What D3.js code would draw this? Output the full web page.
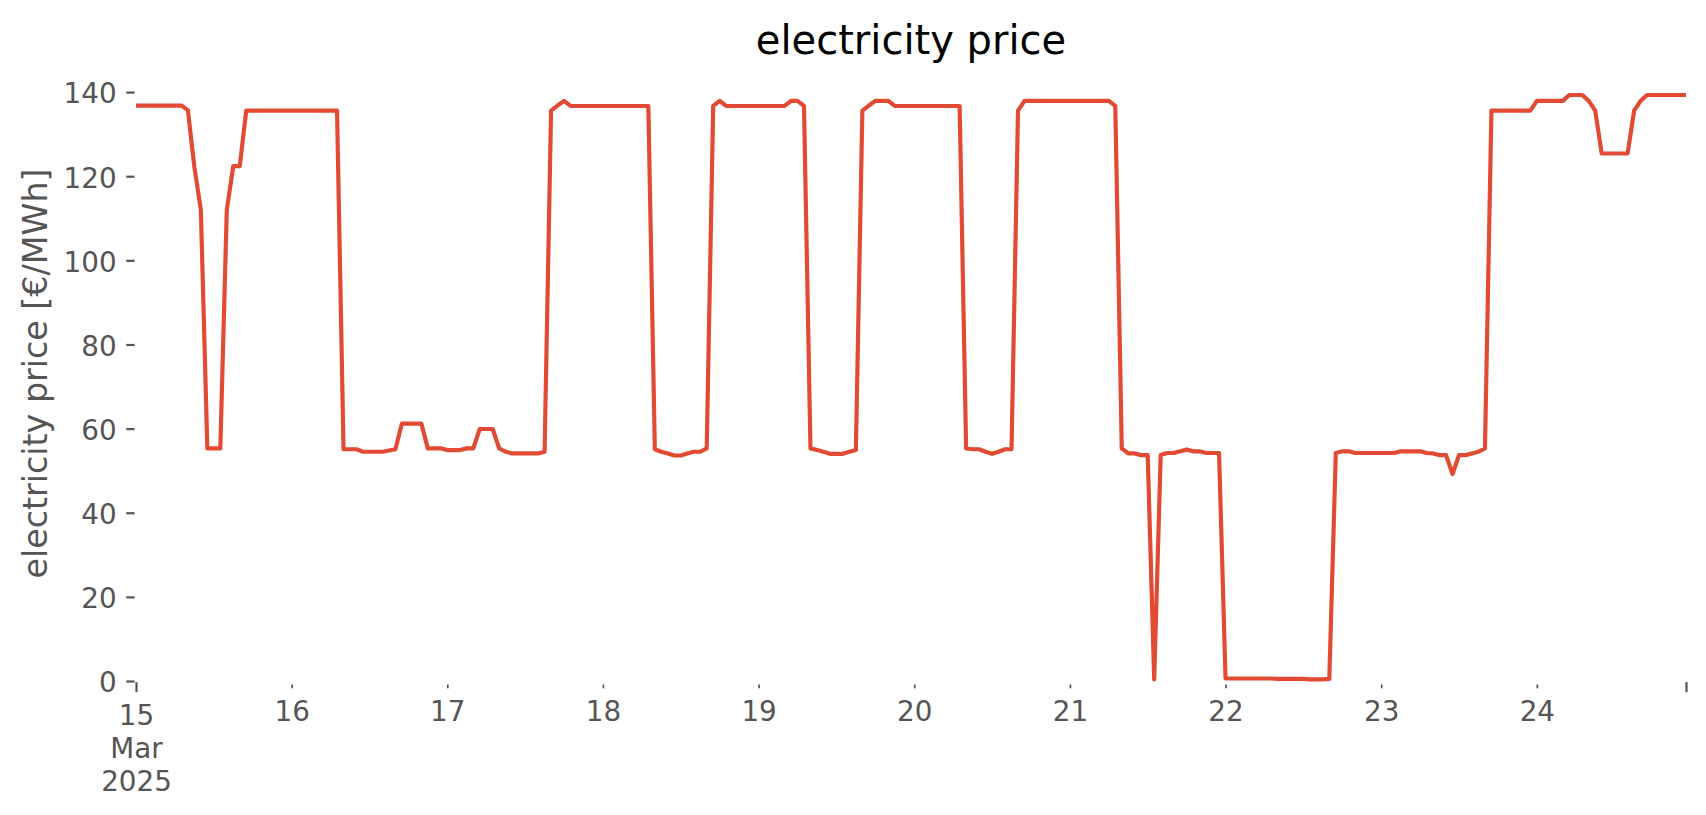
<!DOCTYPE html>
<html>
<head>
<meta charset="utf-8">
<script src="https://cdn.jsdelivr.net/npm/d3@7"></script>
<style>
  html, body { margin: 0; padding: 0; background: #ffffff; }
  svg { display: block; font-family: "DejaVu Sans", sans-serif; }
</style>
</head>
<body>
<svg id="chart" width="1706" height="815"></svg>
<script>
// ---------------- data ----------------
const chartTitle = "electricity price";
const yAxisLabel = "electricity price [€/MWh]";
const startTime = "2025-03-15T00:00:00";
const endTime = "2025-03-24T23:00:00";

// hourly electricity price [€/MWh], 15 Mar 00:00 .. 24 Mar 23:00
const prices = [
  // 15 Mar
  136.8,136.8,136.8,136.8,136.8,136.8,136.8,136.8,135.7,122.2,112.0,55.3,
  55.3,55.3,112.0,122.4,122.4,135.6,135.6,135.6,135.6,135.6,135.6,135.6,
  // 16 Mar
  135.6,135.6,135.6,135.6,135.6,135.6,135.6,135.6,55.1,55.1,55.1,54.5,
  54.5,54.5,54.5,54.8,55.1,61.2,61.2,61.2,61.2,55.3,55.3,55.3,
  // 17 Mar
  54.9,54.9,54.9,55.3,55.3,59.9,59.9,59.9,55.3,54.5,54.1,54.1,
  54.1,54.1,54.1,54.5,135.6,136.8,137.9,136.7,136.7,136.7,136.7,136.7,
  // 18 Mar
  136.7,136.7,136.7,136.7,136.7,136.7,136.7,136.7,55.1,54.5,54.1,53.6,
  53.6,54.1,54.5,54.5,55.3,136.7,137.9,136.7,136.7,136.7,136.7,136.7,
  // 19 Mar
  136.7,136.7,136.7,136.7,136.7,137.9,137.9,136.7,55.3,54.9,54.5,54.0,
  54.0,54.0,54.5,54.9,135.6,136.8,137.9,137.9,137.9,136.7,136.7,136.7,
  // 20 Mar
  136.7,136.7,136.7,136.7,136.7,136.7,136.7,136.7,55.3,55.1,55.1,54.5,
  54.0,54.5,55.1,55.1,135.6,137.9,137.9,137.9,137.9,137.9,137.9,137.9,
  // 21 Mar
  137.9,137.9,137.9,137.9,137.9,137.9,137.9,136.7,55.3,54.1,54.1,53.7,
  53.7,0.4,53.7,54.2,54.2,54.6,55.0,54.6,54.6,54.2,54.2,54.2,
  // 22 Mar
  0.6,0.6,0.6,0.6,0.6,0.6,0.6,0.6,0.5,0.5,0.5,0.5,
  0.5,0.4,0.4,0.4,0.5,54.2,54.6,54.6,54.2,54.2,54.2,54.2,
  // 23 Mar
  54.2,54.2,54.2,54.6,54.6,54.6,54.6,54.2,54.1,53.7,53.7,49.2,
  53.7,53.7,54.1,54.5,55.3,135.6,135.6,135.6,135.6,135.6,135.6,135.6,
  // 24 Mar
  137.9,137.9,137.9,137.9,137.9,139.3,139.3,139.3,137.9,135.6,125.4,125.4,
  125.4,125.4,125.4,135.6,137.9,139.3,139.3,139.3,139.3,139.3,139.3,139.3
];

const yTickValues = [0, 20, 40, 60, 80, 100, 120, 140];
const xTickDates = ["2025-03-15T00:00:00","2025-03-16T00:00:00","2025-03-17T00:00:00",
  "2025-03-18T00:00:00","2025-03-19T00:00:00","2025-03-20T00:00:00","2025-03-21T00:00:00",
  "2025-03-22T00:00:00","2025-03-23T00:00:00","2025-03-24T00:00:00","2025-03-24T23:00:00"];
const xTickLabels = [["15","Mar","2025"],["16"],["17"],["18"],["19"],["20"],["21"],["22"],["23"],["24"],[]];
const xTickMajor = [true,false,false,false,false,false,false,false,false,false,true];

// ---------------- drawing ----------------
const parse = d3.isoParse;
const t0 = parse(startTime), t1 = parse(endTime);
const times = d3.timeHours(t0, d3.timeHour.offset(t1, 1));
const series = prices.map((v, i) => ({ t: times[i], v: v }));

const plot = { left: 136, right: 1686, top: 66, bottom: 681 };

const x = d3.scaleTime().domain([t0, t1]).range([plot.left, plot.right]);
const y = d3.scaleLinear().domain([0, 146.2]).range([plot.bottom, plot.top]);

const svg = d3.select("#chart");
svg.append("rect").attr("width", 1706).attr("height", 815).attr("fill", "#ffffff");

const tickColor = "#555555";
const tickFont = 27.8;

// y axis
const yAxis = d3.axisLeft(y).tickValues(yTickValues).tickFormat(d3.format("d"))
  .tickSizeInner(9.7).tickSizeOuter(0).tickPadding(9.7);
const gy = svg.append("g").attr("transform", `translate(${plot.left},0)`).call(yAxis);
gy.select(".domain").remove();
gy.selectAll(".tick line").attr("stroke", tickColor).attr("stroke-width", 2.2)
  .attr("x1", -1.4);
gy.selectAll(".tick text").attr("fill", tickColor).attr("font-size", tickFont)
  .attr("font-family", "DejaVu Sans").attr("dy", "0.39em");

// x axis
const xAxis = d3.axisBottom(x).tickValues(xTickDates.map(parse)).tickFormat("")
  .tickSizeInner(10).tickSizeOuter(0);
const gx = svg.append("g").attr("transform", `translate(0,${plot.bottom})`).call(xAxis);
gx.select(".domain").remove();
gx.selectAll(".tick").each(function(d, i) {
  const g = d3.select(this);
  const major = xTickMajor[i];
  g.select("line").attr("stroke", tickColor)
    .attr("stroke-width", major ? 2.2 : 1.7)
    .attr("y1", major ? 1.2 : 3.5).attr("y2", major ? 11.2 : 7.3);
  const txt = g.select("text").attr("fill", tickColor).attr("font-size", tickFont)
    .attr("font-family", "DejaVu Sans").attr("text-anchor", "middle")
    .attr("dy", null).attr("y", 0);
  const base = major ? 44 : 40;
  xTickLabels[i].forEach((s, k) => {
    txt.append("tspan").attr("x", 0).attr("y", base + k * 32.8).text(s);
  });
});

// line
const line = d3.line().x(d => x(d.t)).y(d => y(d.v));
svg.append("path").datum(series)
  .attr("fill", "none").attr("stroke", "#E24A33").attr("stroke-width", 4.17)
  .attr("stroke-linejoin", "round").attr("stroke-linecap", "butt")
  .attr("d", line);

// title
svg.append("text").attr("x", (plot.left + plot.right) / 2).attr("y", 53.5)
  .attr("text-anchor", "middle").attr("font-size", 40).attr("fill", "#000000")
  .attr("font-family", "DejaVu Sans").text(chartTitle);

// y label
svg.append("text")
  .attr("transform", `translate(47,${(plot.top + plot.bottom) / 2}) rotate(-90)`)
  .attr("text-anchor", "middle").attr("font-size", 33.3).attr("fill", tickColor)
  .attr("font-family", "DejaVu Sans").text(yAxisLabel);
</script>
</body>
</html>
